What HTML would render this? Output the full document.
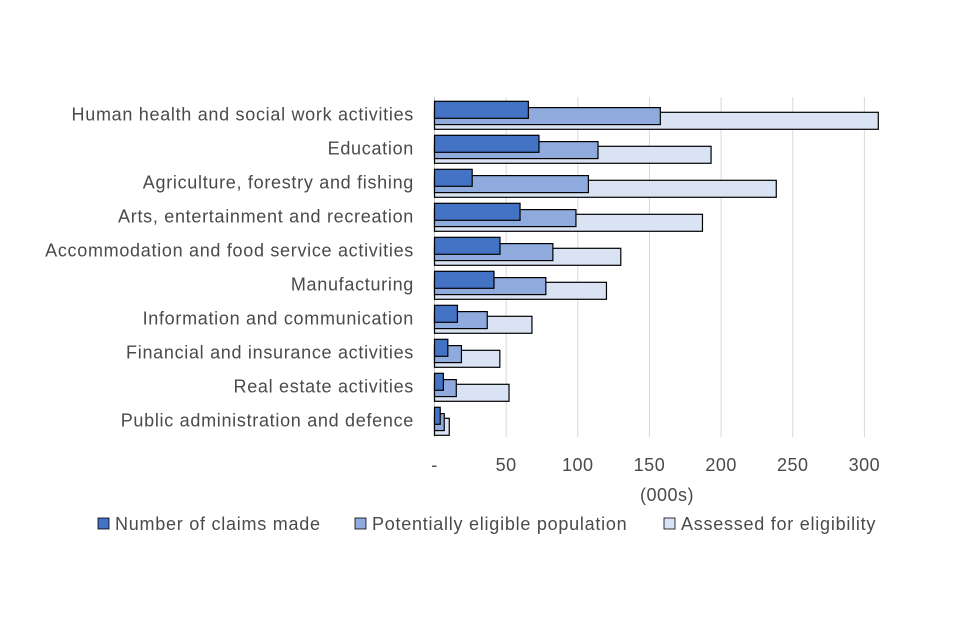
<!DOCTYPE html>
<html><head><meta charset="utf-8"><style>
body{margin:0;background:#fff;}
svg{display:block;font-family:"Liberation Sans",sans-serif;}
</style></head><body>
<svg id="chart" width="960" height="640">
<g id="grid"></g>
<g id="bars"></g>
<g id="ylabels"></g>
<g id="xlabels"></g>
<text x="667" y="501" text-anchor="middle" font-size="18" letter-spacing="0.5" fill="#4a4a4a">(000s)</text>
<g font-size="18" letter-spacing="0.75" fill="#4a4a4a">
<g><rect x="98" y="518" width="11" height="11" fill="#4472c4" stroke="#000" stroke-width="0.8"/><text x="115" y="530">Number of claims made</text></g>
<g><rect x="355" y="518" width="11" height="11" fill="#8faadc" stroke="#000" stroke-width="0.8"/><text x="372" y="530">Potentially eligible population</text></g>
<g><rect x="664" y="518" width="11" height="11" fill="#dae3f3" stroke="#000" stroke-width="0.8"/><text x="681" y="530">Assessed for eligibility</text></g>
</g>
</svg>
<script>
const categories=["Human health and social work activities","Education","Agriculture, forestry and fishing","Arts, entertainment and recreation","Accommodation and food service activities","Manufacturing","Information and communication","Financial and insurance activities","Real estate activities","Public administration and defence"];
const claims=[65.5,72.9,26.3,59.7,45.7,41.5,16,9.3,6.2,4];
const population=[157.6,114.1,107.4,98.7,82.6,77.7,36.8,18.8,15.2,6.8];
const assessed=[309.7,193,238.5,187,130,120,68,45.6,52,10.3];
const ticks=[0,50,100,150,200,250,300];
const tickLabels=["-","50","100","150","200","250","300"];
const NS="http://www.w3.org/2000/svg";
const x=v=>434.5+v*1.433;
const rowTop=i=>101.3+i*34;
function mk(tag,attrs,parent){const e=document.createElementNS(NS,tag);for(const k in attrs)e.setAttribute(k,attrs[k]);parent.appendChild(e);return e;}
const grid=document.getElementById('grid'),bars=document.getElementById('bars'),yl=document.getElementById('ylabels'),xl=document.getElementById('xlabels');
ticks.forEach((t,i)=>{
 const l=mk('line',{x1:x(t),x2:x(t),y1:97,y2:437,stroke:t===0?'#bfbfbf':'#d9d9d9','stroke-width':1},grid);
 
 
 const tx=mk('text',{x:x(t),y:471,'text-anchor':'middle','font-size':18,'letter-spacing':0.5,fill:'#4a4a4a'},xl);
 tx.textContent=tickLabels[i];
 
 
});
const series=[[assessed,11,'#dae3f3','bar-assessed'],[population,6.3,'#8faadc','bar-population'],[claims,0,'#4472c4','bar-claims']];
categories.forEach((c,i)=>{
 series.forEach(([arr,off,col,name])=>{
  const r=mk('rect',{x:x(0),y:rowTop(i)+off,width:x(arr[i])-x(0),height:17,fill:col,stroke:'#000','stroke-width':1.2},bars);
  
  
 });
 const t=mk('text',{x:414,y:rowTop(i)+19,'text-anchor':'end','font-size':18,'letter-spacing':0.7,fill:'#4a4a4a'},yl);
 t.textContent=c;
 
 
});
</script>
</body></html>
